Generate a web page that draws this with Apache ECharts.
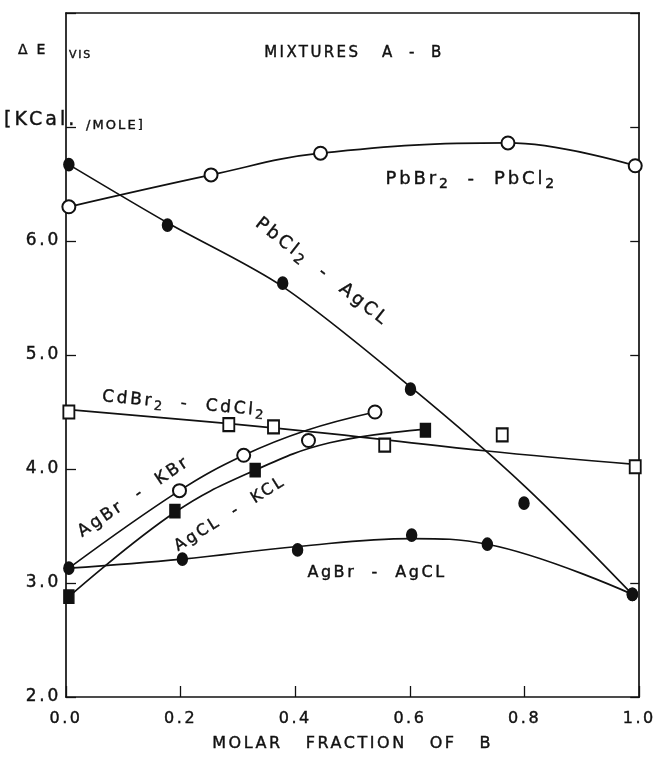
<!DOCTYPE html>
<html>
<head>
<meta charset="utf-8">
<script src="https://cdn.jsdelivr.net/npm/echarts@6/dist/echarts.min.js"></script>
<style>html,body{margin:0;padding:0;background:#fff;}#c{width:659px;height:759px;}</style>
</head>
<body>
<div id="c"></div>
<script>
// ---- data ----
var xTicks = [0.0, 0.2, 0.4, 0.6, 0.8, 1.0];
var yTicks = [2.0, 3.0, 4.0, 5.0, 6.0];

// PbBr2 - PbCl2 (open circles)
var pbbrX = [0.005, 0.253, 0.444, 0.771, 0.993];
var pbbrY = [6.30, 6.58, 6.77, 6.86, 6.66];

// PbCl2 - AgCl (filled circles) + drawn curve
var pbclX = [0.005, 0.177, 0.378, 0.601, 0.799, 0.988];
var pbclY = [6.67, 6.14, 5.63, 4.70, 3.70, 2.90];
var pbclCurveX = [0.005, 0.177, 0.378, 0.601, 0.80, 0.988];
var pbclCurveY = [6.67, 6.16, 5.60, 4.72, 3.85, 2.90];

// CdBr2 - CdCl2 (open squares) + curve
var cdX = [0.005, 0.284, 0.362, 0.556, 0.761, 0.993];
var cdY = [4.50, 4.39, 4.37, 4.21, 4.30, 4.02];
var cdCurveX = [0.005, 0.28, 0.46, 0.73, 0.993];
var cdCurveY = [4.52, 4.40, 4.31, 4.16, 4.04];

// AgBr - KBr (open circles) + curve
var agbrKbrX = [0.198, 0.31, 0.423, 0.539];
var agbrKbrY = [3.81, 4.12, 4.25, 4.50];
var agbrKbrCurveX = [0.005, 0.198, 0.31, 0.42, 0.539];
var agbrKbrCurveY = [3.13, 3.81, 4.12, 4.34, 4.50];

// AgCl - KCl (filled squares) + curve
var agclKclX = [0.005, 0.19, 0.33, 0.627];
var agclKclY = [2.88, 3.63, 3.99, 4.34];
var agclKclCurveX = [0.005, 0.19, 0.33, 0.46, 0.627];
var agclKclCurveY = [2.88, 3.62, 3.99, 4.23, 4.35];

// AgBr - AgCl (filled circles) + curve
var agagX = [0.005, 0.203, 0.404, 0.603, 0.735, 0.988];
var agagY = [3.13, 3.21, 3.29, 3.42, 3.34, 2.90];
var agagCurveX = [0.005, 0.203, 0.404, 0.603, 0.735, 0.988];
var agagCurveY = [3.13, 3.21, 3.32, 3.39, 3.34, 2.90];

// ---- wide lettering (letter spacing proportional to font size) ----
(function () {
  var proto = window.CanvasRenderingContext2D && CanvasRenderingContext2D.prototype;
  if (!proto || !('letterSpacing' in proto)) return;
  var oFill = proto.fillText, oMeasure = proto.measureText, oStroke = proto.strokeText;
  function ls(ctx) {
    var m = /(\d+(?:\.\d+)?)px/.exec(ctx.font);
    var s = m ? parseFloat(m[1]) * 0.16 : 0;
    ctx.letterSpacing = s.toFixed(2) + 'px';
  }
  proto.fillText = function () { ls(this); return oFill.apply(this, arguments); };
  proto.strokeText = function () { ls(this); return oStroke.apply(this, arguments); };
  proto.measureText = function () { ls(this); return oMeasure.apply(this, arguments); };
})();

// ---- build ----
function pairs(xs, ys) { return xs.map(function (x, i) { return [x, ys[i]]; }); }
var INK = '#111';
var FONT = 'DejaVu Sans';
var PEN = 0.4;

function curve(xs, ys, smooth) {
  return { type: 'line', data: pairs(xs, ys), smooth: smooth, showSymbol: false, symbol: 'none',
    lineStyle: { color: INK, width: 1.7 }, z: 2, silent: true };
}
function pts(xs, ys, symbol, size) {
  return { type: 'scatter', data: pairs(xs, ys), symbol: symbol, symbolSize: size,
    itemStyle: { color: INK, borderColor: INK, borderWidth: 1.6, opacity: 1 },
    z: 3, silent: true };
}

var chart = echarts.init(document.getElementById('c'), null, { renderer: 'canvas' });

var axisText = { fontFamily: FONT, color: INK, textBorderColor: INK, textBorderWidth: PEN };

var option = {
  backgroundColor: '#fff',
  animation: false,
  grid: { left: 66, right: 16, top: 13, bottom: 62 },
  xAxis: [{
    type: 'value', min: 0, max: 1, interval: 0.2, position: 'bottom',
    name: 'MOLAR   FRACTION   OF   B', nameLocation: 'middle', nameGap: 38,
    nameTextStyle: Object.assign({ fontSize: 16 }, axisText),
    axisLine: { show: true, onZero: false, lineStyle: { color: INK, width: 1.7 } },
    axisTick: { show: true, inside: true, length: 11, lineStyle: { color: INK, width: 1.3 } },
    axisLabel: Object.assign({ fontSize: 16, margin: 13,
      formatter: function (v) { return v.toFixed(1); } }, axisText),
    splitLine: { show: false }
  }, {
    type: 'value', min: 0, max: 1, position: 'top',
    axisLine: { show: true, onZero: false, lineStyle: { color: INK, width: 1.7 } },
    axisTick: { show: false }, axisLabel: { show: false }, splitLine: { show: false }
  }],
  yAxis: [{
    type: 'value', min: 2, max: 8, interval: 1, position: 'left',
    axisLine: { show: true, onZero: false, lineStyle: { color: INK, width: 1.7 } },
    axisTick: { show: true, inside: true, length: 10, lineStyle: { color: INK, width: 1.3 } },
    axisLabel: Object.assign({ fontSize: 17, margin: 5,
      formatter: function (v) { return yTicks.indexOf(v) >= 0 ? v.toFixed(1) : ''; } }, axisText),
    splitLine: { show: false }
  }, {
    type: 'value', min: 2, max: 8, interval: 1, position: 'right',
    axisLine: { show: true, onZero: false, lineStyle: { color: INK, width: 1.7 } },
    axisTick: { show: true, inside: true, length: 9, lineStyle: { color: INK, width: 1.3 } },
    axisLabel: { show: false }, splitLine: { show: false }
  }],
  series: [
    curve(pbbrX, pbbrY, 0.4),
    pts(pbbrX, pbbrY, 'emptyCircle', 13),
    curve(pbclCurveX, pbclCurveY, 0.3),
    pts(pbclX, pbclY, 'circle', [10, 12]),
    curve(cdCurveX, cdCurveY, 0.4),
    pts(cdX, cdY, 'emptyRect', [11, 13]),
    curve(agbrKbrCurveX, agbrKbrCurveY, 0.4),
    pts(agbrKbrX, agbrKbrY, 'emptyCircle', 13),
    curve(agclKclCurveX, agclKclCurveY, 0.4),
    pts(agclKclX, agclKclY, 'rect', [10, 13]),
    curve(agagCurveX, agagCurveY, 0.4),
    pts(agagX, agagY, 'circle', [10, 12])
  ],
  graphic: []
};

function label(text, x, y, rotDeg, size) {
  size = size || 17;
  return { type: 'text', x: x, y: y, rotation: (rotDeg || 0) * Math.PI / 180, silent: true, z: 10,
    style: { text: text, fill: INK, stroke: INK, lineWidth: PEN, font: size + 'px "' + FONT + '"',
      align: 'center', verticalAlign: 'middle',
      rich: {
        a: { fontFamily: FONT, fontSize: size, fill: INK, stroke: INK, lineWidth: PEN },
        s: { fontFamily: FONT, fontSize: size - 4, fill: INK, stroke: INK, lineWidth: PEN, padding: [10, 0, 0, 0] }
      } } };
}
function plain(text, x, y, size) {
  return { type: 'text', x: x, y: y, silent: true, z: 10,
    style: { text: text, fill: INK, stroke: INK, lineWidth: PEN, font: size + 'px "' + FONT + '"',
      align: 'left', verticalAlign: 'middle' } };
}

option.graphic = [
  plain('Δ E', 18, 50, 14),
  plain('VIS', 69, 55, 11),
  plain('[KCal.', 4, 120, 19),
  plain('/MOLE]', 86, 126, 13),
  label('MIXTURES   A  -  B', 354, 53, 0, 15),
  label('{a|PbBr}{s|2}{a|  -  PbCl}{s|2}', 471, 179, 0, 18),
  label('{a|PbCl}{s|2}{a|  -  AgCL}', 322, 272, -38, 18),
  label('{a|CdBr}{s|2}{a|  -  CdCl}{s|2}', 184, 404, -5, 17),
  label('{a|AgBr  -  KBr}', 134, 497, 34, 17),
  label('{a|AgCL  -  KCL}', 230, 514, 32, 16),
  label('{a|AgBr  -  AgCL}', 377, 573, 0, 16)
];

chart.setOption(option);
</script>
</body>
</html>
